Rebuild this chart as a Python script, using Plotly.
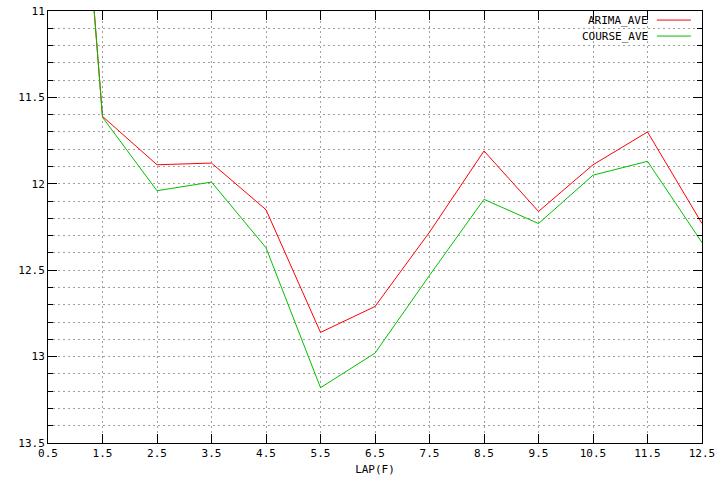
import plotly.graph_objects as go

laps = [0.5, 1.5, 2.5, 3.5, 4.5, 5.5, 6.5, 7.5, 8.5, 9.5, 10.5, 11.5, 12.5]
arima_ave = [7.6, 11.61, 11.89, 11.88, 12.15, 12.86, 12.71, 12.28, 11.81, 12.16, 11.89, 11.70, 12.23]
course_ave = [7.6, 11.615, 12.04, 11.99, 12.37, 13.18, 12.98, 12.53, 12.09, 12.23, 11.95, 11.87, 12.34]

series = [("ARIMA_AVE", arima_ave, "#ff0000"), ("COURSE_AVE", course_ave, "#00c000")]

FONT = "DejaVu Sans Mono"
GRID = "#a0a0a0"

fig = go.Figure()
for name, vals, col in series:
    fig.add_trace(go.Scatter(x=laps, y=vals, mode="lines", name=name,
                             line=dict(color=col, width=1), showlegend=False,
                             cliponaxis=True))

# gnuplot-style legend (text right-aligned, sample line to the right)
for i, (name, vals, col) in enumerate(series):
    ypos = 0.979 - i * 0.037
    fig.add_annotation(x=0.920, y=ypos, xref="paper", yref="paper", text=name,
                       showarrow=False, xanchor="right", yanchor="middle",
                       font=dict(family=FONT, size=11, color="black"))
    fig.add_shape(type="line", xref="paper", yref="paper",
                  x0=0.931, x1=0.983, y0=ypos, y1=ypos,
                  line=dict(color=col, width=1))

fig.update_layout(
    width=720, height=480,
    margin=dict(l=48, r=18, t=11, b=37, pad=0),
    paper_bgcolor="white", plot_bgcolor="white",
    font=dict(family=FONT, size=11, color="black"),
    showlegend=False,
)
fig.update_xaxes(
    range=[0.5, 12.5], tick0=0.5, dtick=1, tickformat=".1f",
    automargin=False,
    showline=True, linecolor="black", linewidth=1, mirror="allticks",
    ticks="inside", ticklen=9, tickcolor="black",
    showgrid=True, gridcolor=GRID, griddash="2px,3px", gridwidth=1,
    zeroline=False,
    title=dict(text="LAP(F)", standoff=6, font=dict(family=FONT, size=11)),
)
fig.update_yaxes(
    range=[13.5, 11], tick0=11, dtick=0.5,
    automargin=False,
    showline=True, linecolor="black", linewidth=1, mirror="allticks",
    ticks="inside", ticklen=9, tickcolor="black",
    showgrid=True, gridcolor=GRID, griddash="2px,3px", gridwidth=1,
    zeroline=False,
    minor=dict(dtick=0.1, showgrid=True, gridcolor=GRID, griddash="2px,3px",
               gridwidth=1, ticks="inside", ticklen=5, tickcolor="black"),
)

fig.write_html("out.html", config={"displayModeBar": False},
               post_script="document.body.style.margin='0';document.body.style.overflow='hidden';")
